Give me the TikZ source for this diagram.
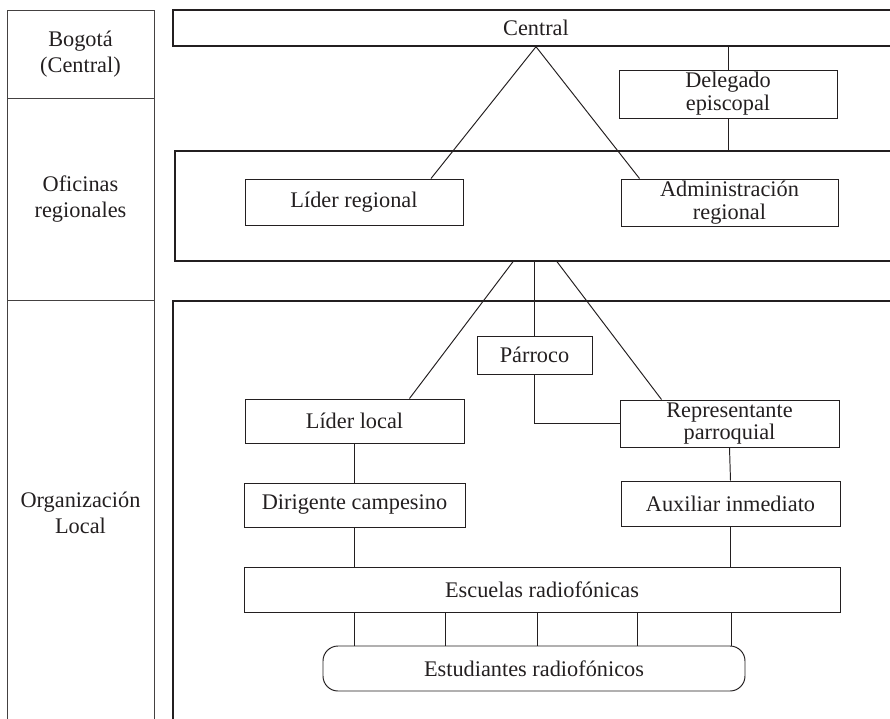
\documentclass[tikz,border=0pt]{standalone}
\usepackage{fontspec}
\setmainfont{Liberation Serif}
\usetikzlibrary{calc,positioning}
\definecolor{ink}{HTML}{231F20}
\newcommand{\pu}{0.02cm}

\begin{document}
\begin{tikzpicture}[x=0.02cm,y=-0.02cm]
\tikzstyle{every node} = [inner sep = 0pt, align = center, font = \fontsize{12.7}{13}\selectfont, text = ink];
\tikzstyle{lane} = [draw = ink!85, line width = 0.5pt];
\tikzstyle{frame} = [draw = ink, line width = 0.8pt];
\tikzstyle{unit} = [draw = ink, line width = 0.55pt];
\tikzstyle{link} = [draw = ink, line width = 0.55pt];
\clip (0,0) rectangle (890,718);
% left column
\node[lane, minimum width = 147*\pu, minimum height = 88*\pu] (bogota) at (80.5,54) {Bogotá\\[2pt](Central)};
\node[lane, minimum width = 147*\pu, minimum height = 202*\pu] (oficinas) at (80.5,199) {Oficinas\\[2pt]regionales};
\node[lane, minimum width = 147*\pu, minimum height = 426*\pu] (orgloc) at (80.5,513) {Organización\\[2pt]Local};
% frames
\node[frame, minimum width = 726*\pu, minimum height = 36*\pu] (central) at (536,28) {Central};
\node[frame, minimum width = 722*\pu, minimum height = 110*\pu] (regional) at (536,206) {};
\node[frame, minimum width = 726*\pu, minimum height = 458*\pu] (local) at (536,530) {};
% units
\node[unit, minimum width = 218*\pu, minimum height = 48*\pu] (delegado) at (728,94) {Delegado\\episcopal};
\node[unit, minimum width = 218*\pu, minimum height = 46*\pu] (lreg) at (354,202) {Líder regional};
\node[unit, minimum width = 217*\pu, minimum height = 47*\pu] (adreg) at (729.5,202.5) {Administración\\regional};
\node[unit, minimum width = 115*\pu, minimum height = 38*\pu] (parroco) at (534.5,355) {Párroco};
\node[unit, minimum width = 219*\pu, minimum height = 44*\pu] (llocal) at (354.5,421) {Líder local};
\node[unit, minimum width = 219*\pu, minimum height = 47*\pu] (repre) at (729.5,423.5) {Representante\\parroquial};
\node[unit, minimum width = 221*\pu, minimum height = 44*\pu] (dirig) at (354.5,505) {Dirigente campesino};
\node[unit, minimum width = 219*\pu, minimum height = 45*\pu] (aux) at (730.5,503.5) {Auxiliar inmediato};
\node[unit, minimum width = 596*\pu, minimum height = 45*\pu] (escuelas) at (542,589.5) {Escuelas radiofónicas};
\node[unit, rounded corners = 15*\pu, minimum width = 422*\pu, minimum height = 45*\pu] (estud) at (534,668.5) {Estudiantes radiofónicos};
% connectors
\draw[link] ($(lreg.north)+(77,0)$) -- (central.south) -- ($(adreg.north west)+(19,0)$);
\draw[link] (delegado.north) -- (delegado.north |- central.south);
\draw[link] (delegado.south) -- (delegado.south |- regional.north);
\draw[link] ($(regional.south)+(-23,0)$) -- ($(llocal.north east)+(-55,0)$);
\draw[link] (parroco.north |- regional.south) -- (parroco.north);
\draw[link] ($(regional.south)+(21,0)$) -- ($(repre.north west)+(42,0)$);
\draw[link] (parroco.south) -- (parroco.south |- repre.west) -- (repre.west);
\draw[link] (llocal.south) -- (dirig.north);
\draw[link] (dirig.south) -- (dirig.south |- escuelas.north);
\draw[link] (repre.south) -- (aux.north);
\draw[link] (aux.south) -- (aux.south |- escuelas.north);
\foreach \x in {354,445,537,637,731}
  \draw[link] (escuelas.south -| \x,0) -- (estud.north -| \x,0);
\end{tikzpicture}
\end{document}
